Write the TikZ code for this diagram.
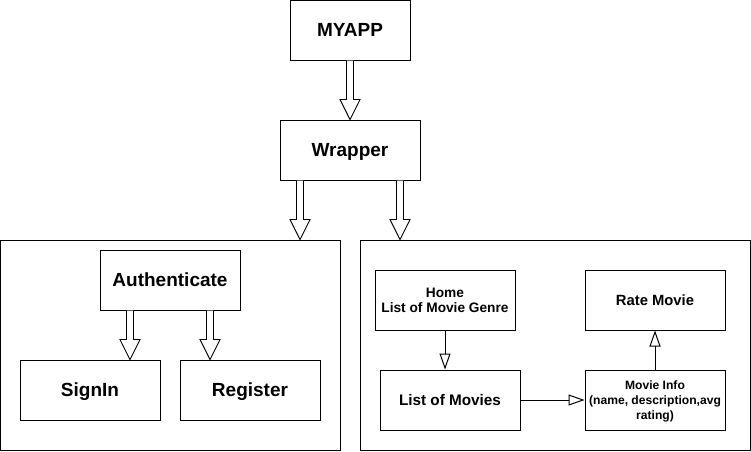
\documentclass[tikz,border=0pt]{standalone}
\usepackage{fontspec}
\setmainfont{Liberation Sans}
\usetikzlibrary{arrows.meta, positioning, calc}

\begin{document}
\begin{tikzpicture}[
          x=1pt, y=-1pt,
          box/.style={draw, line width=1pt, fill=white, minimum width=140pt, minimum height=60pt, align=center, inner sep=2pt, text depth=0pt, font=\bfseries\fontsize{19}{23}\selectfont},
          panel/.style={draw, line width=1pt, minimum height=210pt, inner sep=0pt},
          fat/.style={draw, line width=0.9pt, fill=white, to path={let \p1=(\tikztostart), \p2=(\tikztotarget) in
              (\x1-3.5pt,\y1) -- (\x1-3.5pt,\y2+20pt) -- (\x1-10pt,\y2+20pt) -- (\x1,\y2)
              -- (\x1+10pt,\y2+20pt) -- (\x1+3.5pt,\y2+20pt) -- (\x1+3.5pt,\y1)}},
          arr/.style={-{Triangle[open, length=16pt, width=11pt]}, line width=1pt}
        ]
        \useasboundingbox (0,0) rectangle (751,451);
        \node[box, minimum width=120pt] (myapp) at (350,30) {MYAPP};
        \node[box] (wrap) at (350,150) {Wrapper};
        \node[panel, minimum width=340pt] (login) at (170.5,345) {};
        \node[panel, minimum width=390pt] (main) at (555,345) {};
        \node[box] (auth) at (170,280) {Authenticate};
        \node[box] (signin) at (90,390) {SignIn};
        \node[box] (register) at (250,390) {Register};
        \node[box, font=\bfseries\fontsize{13.7}{15}\selectfont] (home) at (445,300) {Home\\List of Movie Genre};
        \node[box, font=\bfseries\fontsize{15.3}{18}\selectfont] (movies) at (450,400) {List of Movies};
        \node[box, font=\bfseries\fontsize{14.8}{18}\selectfont] (rate) at (655,300) {Rate Movie};
        \node[box, font=\bfseries\fontsize{12.1}{15}\selectfont] (info) at (655,400) {Movie Info\\(name, description,avg\\rating)};
        \draw[fat] (myapp.south) to (wrap.north);
        \draw[fat] ([xshift=-50pt]wrap.south) to ([xshift=-50pt]wrap.south |- login.north);
        \draw[fat] ([xshift=50pt]wrap.south) to ([xshift=50pt]wrap.south |- main.north);
        \draw[fat] ([xshift=-40pt]auth.south) to ([xshift=-40pt]auth.south |- signin.north);
        \draw[fat] ([xshift=40pt]auth.south) to ([xshift=40pt]auth.south |- register.north);
        \draw[arr] (home) -- (home |- movies.north);
        \draw[arr] (movies) -- (info);
        \draw[arr] (info) -- (rate);
      \end{tikzpicture}
\end{document}
